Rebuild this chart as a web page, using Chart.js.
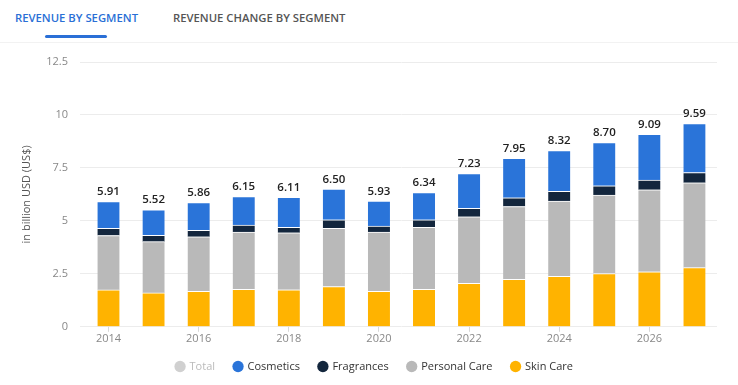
<!DOCTYPE html>
<html>
<head>
<meta charset="utf-8">
<script src="https://cdn.jsdelivr.net/npm/chart.js@4"></script>
<style>
  html, body { margin: 0; padding: 0; background: #fff; }
  body { width: 738px; height: 385px; position: relative; overflow: hidden; font-family: "Open Sans", sans-serif; }
  .tabs { position: absolute; left: 0; top: 0; width: 738px; height: 42px; border-bottom: 1px solid #f2f2f2; }
  .tab { position: absolute; top: 10px; font-size: 11.3px; font-weight: 600; letter-spacing: 0; }
  .tab.active { left: 15px; color: #2a6fd6; }
  .tab.other { left: 173px; color: #555; }
  .underline { position: absolute; left: 45px; top: 35px; width: 62px; height: 3px; border-radius: 2px; background: #2a6fd6; }
  #wrap { position: absolute; left: 0; top: 0; width: 738px; height: 385px; }
</style>
</head>
<body>
<div class="tabs">
  <div class="tab active">REVENUE BY SEGMENT</div>
  <div class="tab other">REVENUE CHANGE BY SEGMENT</div>
  <div class="underline"></div>
</div>
<div id="wrap"><canvas id="chart" width="738" height="385"></canvas></div>
<script>
// values (billion USD)
const years = ["2014", "2015", "2016", "2017", "2018", "2019", "2020", "2021", "2022", "2023", "2024", "2025", "2026", "2027"]
const totals = [5.91, 5.52, 5.86, 6.15, 6.11, 6.50, 5.93, 6.34, 7.23, 7.95, 8.32, 8.70, 9.09, 9.59]
const skinCare = [1.74, 1.60, 1.67, 1.77, 1.75, 1.90, 1.67, 1.77, 2.05, 2.24, 2.38, 2.51, 2.60, 2.79]
const personalCare = [2.57, 2.42, 2.58, 2.70, 2.69, 2.75, 2.80, 2.93, 3.14, 3.44, 3.55, 3.71, 3.87, 4.01]
const fragrances = [0.34, 0.30, 0.30, 0.33, 0.26, 0.40, 0.28, 0.35, 0.40, 0.41, 0.46, 0.44, 0.46, 0.48]
const cosmetics = [1.26, 1.20, 1.31, 1.35, 1.41, 1.45, 1.18, 1.29, 1.64, 1.86, 1.93, 2.04, 2.16, 2.31]
const yTicks = [0, 2.5, 5, 7.5, 10, 12.5]

const FONT = "'Open Sans', sans-serif"

// draws the total value above every stack
const totalLabels = {
  id: "totalLabels",
  afterDatasetsDraw(chart) {
    const { ctx, scales } = chart
    ctx.save()
    ctx.font = "600 11.5px " + FONT
    ctx.fillStyle = "#222"
    ctx.textAlign = "center"
    ctx.textBaseline = "bottom"
    totals.forEach((t, i) => {
      const x = scales.x.getPixelForValue(i)
      const y = scales.y.getPixelForValue(t)
      ctx.fillText(t.toFixed(2), x, y - 4)
    })
    ctx.restore()
  },
}

// nudge the legend box a bit (statista centres it under the whole card)
const legendNudge = {
  id: "legendNudge",
  afterLayout(chart) {
    const lg = chart.legend
    if (!lg) return
    lg.top -= 3
    lg.bottom -= 3
    lg.left += 8
    lg.right += 8
  },
}

const seg = (label, data, color) => ({
  label,
  data,
  backgroundColor: color,
  borderColor: "#fff",
  borderWidth: { top: 1 },
  borderSkipped: false,
  barThickness: 22,
})

new Chart(document.getElementById("chart"), {
  type: "bar",
  data: {
    labels: years,
    datasets: [
      seg("Skin Care", skinCare, "#ffb300"),
      seg("Personal Care", personalCare, "#b9b9b9"),
      seg("Fragrances", fragrances, "#13263d"),
      seg("Cosmetics", cosmetics, "#2a74d9"),
      { label: "Total", data: totals, backgroundColor: "#cfcfcf", hidden: true },
    ],
  },
  options: {
    responsive: false,
    animation: false,
    layout: { padding: { top: 62, right: 21, left: 16, bottom: 0 } },
    plugins: {
      tooltip: { enabled: false },
      legend: {
        position: "bottom",
        labels: {
          usePointStyle: true,
          pointStyle: "circle",
          boxWidth: 8,
          boxHeight: 8,
          padding: 19,
          color: "#333",
          font: { family: FONT, size: 11 },
          sort: (a, b) => b.datasetIndex - a.datasetIndex,
          generateLabels(chart) {
            const items = Chart.defaults.plugins.legend.labels.generateLabels(chart)
            return items.map((it) => {
              if (it.text === "Total") {
                it.hidden = false
                it.fontColor = "#bbb"
                it.fillStyle = "#d0d0d0"
                it.strokeStyle = "#d0d0d0"
              } else {
                it.strokeStyle = it.fillStyle
              }
              it.lineWidth = 0
              return it
            })
          },
        },
      },
    },
    scales: {
      x: {
        stacked: true,
        offset: true,
        border: { display: false },
        grid: {
          display: true,
          drawOnChartArea: false,
          offset: false,
          tickLength: 5,
          color: (c) => (c.index % 2 === 0 ? "#d8d8d8" : "rgba(0,0,0,0)"),
        },
        ticks: {
          autoSkip: false,
          maxRotation: 0,
          padding: 0,
          color: "#888",
          font: { family: FONT, size: 11 },
          callback: (v, i) => (i % 2 === 0 ? years[i] : ""),
        },
      },
      y: {
        stacked: true,
        min: 0,
        max: 12.5,
        afterBuildTicks: (axis) => { axis.ticks = yTicks.map((v) => ({ value: v })) },
        border: { display: false },
        grid: { color: "#ececec", tickLength: 6, drawTicks: true },
        ticks: {
          padding: 12,
          color: "#888",
          font: { family: FONT, size: 11 },
          callback: (v) => String(v),
        },
        title: {
          display: true,
          text: "in billion USD (US$)",
          color: "#555",
          font: { family: FONT, size: 11 },
          padding: { top: 4, bottom: 1 },
        },
      },
    },
  },
  plugins: [totalLabels, legendNudge],
})
</script>
</body>
</html>
